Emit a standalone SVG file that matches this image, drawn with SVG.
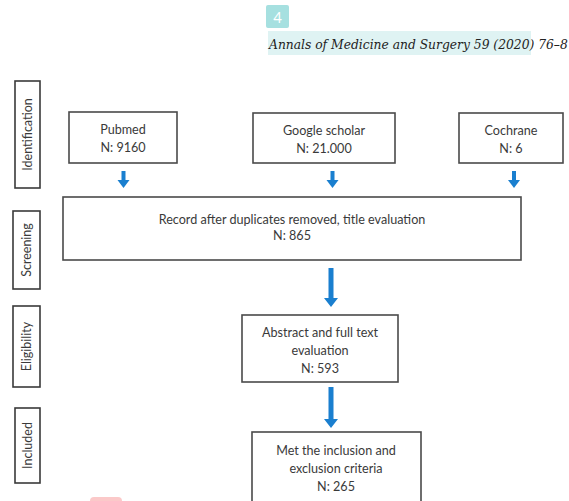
<svg xmlns="http://www.w3.org/2000/svg" width="569" height="501" viewBox="0 0 569 501">
<defs>
<style>
.box{fill:#fff;stroke:#4a4a4a;stroke-width:1.6}
.side{fill:#fff;stroke:#3a3a3a;stroke-width:1.6}
.t{font-family:Lato,"Open Sans","Liberation Sans",sans-serif;font-size:12.6px;fill:#3a3a3a;text-anchor:middle}
.st{font-family:Lato,"Open Sans","Liberation Sans",sans-serif;font-size:12.5px;fill:#3a3a3a;text-anchor:middle}
.arr{fill:#1a7fcf}
</style>
</defs>
<rect width="569" height="501" fill="#fff"/>
<g id="header">
<rect x="266" y="5" width="23" height="23" rx="2" fill="#a6e0e0"/>
<text x="277.5" y="23" font-family="Lato,'Liberation Sans',sans-serif" font-size="15" fill="#fff" text-anchor="middle">4</text>
<rect x="268" y="31" width="263" height="24" fill="#dff3f3"/>
<text x="269" y="49" font-family="'DejaVu Serif','Liberation Serif',serif" font-style="italic" font-size="12.3" fill="#222">Annals of Medicine and Surgery 59 (2020) 76–8</text>
</g>
<g id="label-identification">
<rect class="side" x="15" y="81" width="25" height="107"/>
<text class="st" transform="translate(32,134.5) rotate(-90)">Identification</text>
</g>
<g id="label-screening">
<rect class="side" x="13" y="211" width="27" height="78"/>
<text class="st" transform="translate(31,250) rotate(-90)">Screening</text>
</g>
<g id="label-eligibility">
<rect class="side" x="13" y="306" width="27" height="81"/>
<text class="st" transform="translate(31,346.5) rotate(-90)">Eligibility</text>
</g>
<g id="label-included">
<rect class="side" x="15" y="408" width="25" height="75"/>
<text class="st" transform="translate(32,445.5) rotate(-90)">Included</text>
</g>
<g id="pubmed">
<rect class="box" x="69" y="112" width="108" height="51"/>
<text class="t" x="123" y="134">Pubmed</text>
<text class="t" x="123" y="152">N: 9160</text>
</g>
<g id="google">
<rect class="box" x="253" y="113" width="142" height="50"/>
<text class="t" x="324" y="135">Google scholar</text>
<text class="t" x="324" y="153">N: 21.000</text>
</g>
<g id="cochrane">
<rect class="box" x="459" y="113" width="104" height="50"/>
<text class="t" x="511" y="135">Cochrane</text>
<text class="t" x="511" y="153">N: 6</text>
</g>
<g id="record">
<rect class="box" x="63" y="197" width="458" height="63"/>
<text class="t" x="292" y="224">Record after duplicates removed, title evaluation</text>
<text class="t" x="292" y="240">N: 865</text>
</g>
<g id="abstract">
<rect class="box" x="242" y="315" width="156" height="67"/>
<text class="t" x="320" y="337">Abstract and full text</text>
<text class="t" x="320" y="355">evaluation</text>
<text class="t" x="320" y="373">N: 593</text>
</g>
<g id="met">
<rect class="box" x="252" y="432" width="169" height="80"/>
<text class="t" x="336" y="455">Met the inclusion and</text>
<text class="t" x="336" y="473">exclusion criteria</text>
<text class="t" x="336" y="491">N: 265</text>
</g>
<g id="connectors">
<path class="arr" d="M121.5 171h4v9h4l-6 8l-6-8h4z"/>
<path class="arr" d="M330.5 171h4v9h4l-6 8l-6-8h4z"/>
<path class="arr" d="M512 171h4v9h4l-6 8l-6-8h4z"/>
<path class="arr" d="M328.5 268h5v30h4.5l-7 9l-7-9h4.5z"/>
<path class="arr" d="M328.5 387h5v32h4.5l-7 9l-7-9h4.5z"/>
</g>
<rect x="90" y="497" width="32" height="8" rx="4" fill="#fbc9c9"/>
</svg>
